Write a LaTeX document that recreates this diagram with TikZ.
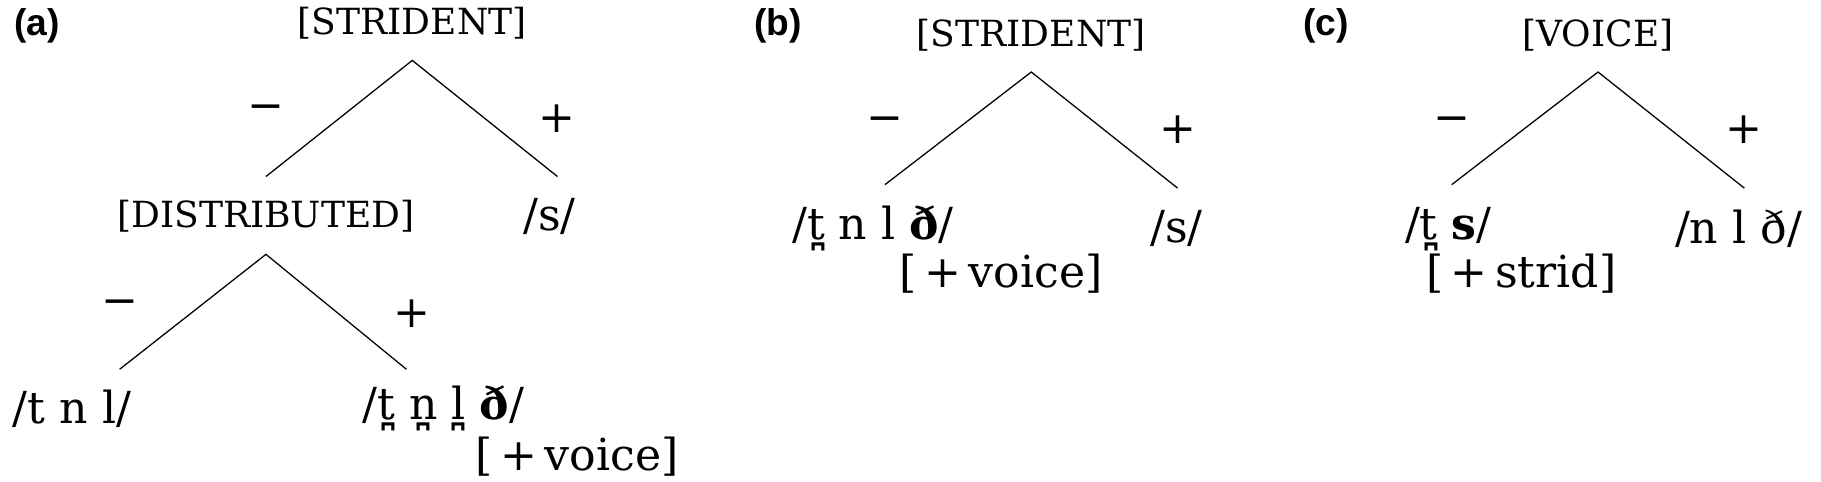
\documentclass[tikz,border=0pt]{standalone}
\usepackage{fontspec}
\setmainfont{DejaVu Serif}
\newfontfamily\lab{Liberation Sans}
\begin{document}
\begin{tikzpicture}[x=1pt,y=-1pt,
  t/.style={inner sep=0pt,font=\fontsize{38}{42}\selectfont},
  f/.style={inner sep=0pt,font=\fontsize{31}{34}\selectfont},
  pl/.style={inner sep=0pt,font=\fontsize{38}{40}\selectfont},
  lb/.style={inner sep=0pt,font=\lab\bfseries\fontsize{32}{34}\selectfont},
  br/.style={line width=1.1pt}]
\useasboundingbox (0,0) rectangle (1568,415);
% (a)
\node[lb] (la) at (32,22) {(a)};
\node[f] (s1) at (355,20) {[STRIDENT]};
\coordinate (a1) at (355,52); \coordinate (a1l) at (229,152); \coordinate (a1r) at (480,152);
\draw[br] (a1l) -- (a1) -- (a1r);
\node[pl] (m1) at (229,97) {\textminus};
\node[pl] (p1) at (480,102) {+};
\node[f] (d1) at (229,186) {[DISTRIBUTED]};
\node[t] (ss1) at (473,186) {/s/};
\coordinate (a2) at (229,219); \coordinate (a2l) at (103,318); \coordinate (a2r) at (350,318);
\draw[br] (a2l) -- (a2) -- (a2r);
\node[pl] (m2) at (103,265) {\textminus};
\node[pl] (p2) at (355,270) {+};
\node[t] (tnl) at (62,352) {/t n l/};
\node[t,anchor=west] (tnl2) at (312,352) {/t̪ n̪ l̪ \textbf{ð}/};
\node[t] (v1) at (497,393) {[\,+\,voice]};
% (b)
\node[lb] (lbb) at (670,22) {(b)};
\node[f] (s2) at (888,30) {[STRIDENT]};
\coordinate (b1) at (888,62); \coordinate (b1l) at (762,159); \coordinate (b1r) at (1014,162);
\draw[br] (b1l) -- (b1) -- (b1r);
\node[pl] (m3) at (762,107) {\textminus};
\node[pl] (p3) at (1014,112) {+};
\node[t,anchor=west] (b2) at (682,197) {/t̪ n l \textbf{ð}/};
\node[t] (ss2) at (1013,197) {/s/};
\node[t] (v2) at (862,236) {[\,+\,voice]};
% (c)
\node[lb] (lc) at (1142,22) {(c)};
\node[f] (vc) at (1376,30) {[VOICE]};
\coordinate (c1) at (1376,62); \coordinate (c1l) at (1250,159); \coordinate (c1r) at (1502,162);
\draw[br] (c1l) -- (c1) -- (c1r);
\node[pl] (m4) at (1250,107) {\textminus};
\node[pl] (p4) at (1502,112) {+};
\node[t] (c2) at (1247,197) {/t̪ \textbf{s}/};
\node[t] (c3) at (1497,197) {/n l ð/};
\node[t] (v3) at (1310,236) {[\,+\,strid]};
\end{tikzpicture}
\end{document}
